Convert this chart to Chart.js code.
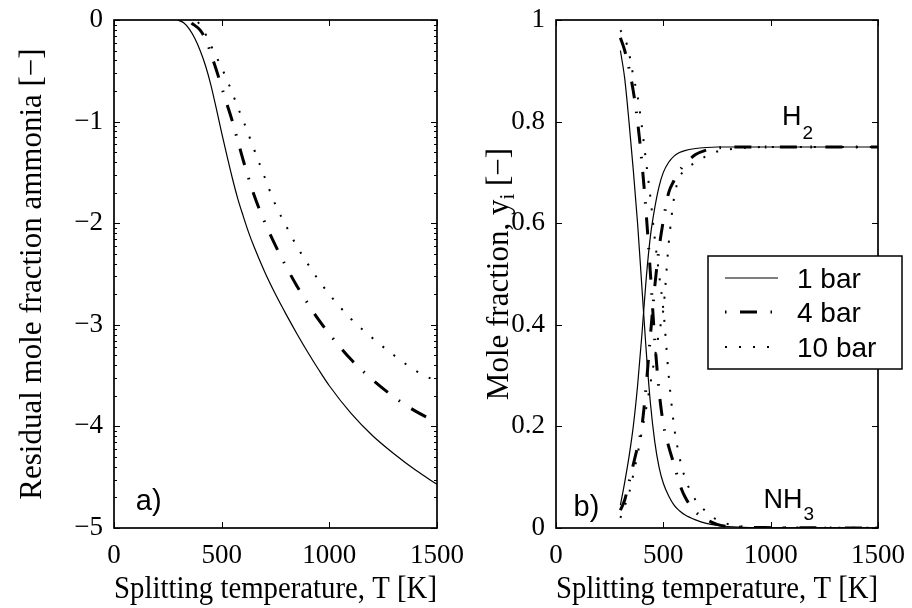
<!DOCTYPE html>
<html><head><meta charset="utf-8">
<script src="https://cdn.jsdelivr.net/npm/chart.js@4.4.1/dist/chart.umd.min.js"></script>
<style>
html,body{margin:0;padding:0;background:#fff;}
#wrap{position:relative;width:912px;height:608px;overflow:hidden;background:#fff}
canvas{position:absolute;top:0}
#cA{left:0}
#cB{left:456px}
</style></head><body>
<div id="wrap"><canvas id="cA" width="500" height="608"></canvas><canvas id="cB" width="456" height="608"></canvas></div>
<script>
// ---------- tick labels / categories ----------
const xTicks = [0, 500, 1000, 1500];
const yTicksA = [0, -1, -2, -3, -4, -5];
const yTicksB = [0, 0.2, 0.4, 0.6, 0.8, 1];
const seriesNames = ['1 bar', '4 bar', '10 bar'];

// ---------- panel a) : log10 of residual NH3 mole fraction ----------
const tempA1  = [296, 325, 350, 375, 400, 425, 450, 475, 500, 525, 550, 575, 600, 625, 650, 700, 750, 800, 850, 900, 950, 1000, 1100, 1200, 1300, 1400, 1500];
const logA1   = [0, -0.03, -0.09, -0.18, -0.30, -0.45, -0.64, -0.87, -1.11, -1.34, -1.56, -1.76, -1.93, -2.09, -2.23, -2.48, -2.70, -2.90, -3.09, -3.27, -3.44, -3.60, -3.87, -4.09, -4.27, -4.43, -4.57];
const tempA4  = [360, 400, 430, 450, 475, 500, 525, 550, 575, 600, 650, 700, 750, 800, 850, 900, 950, 1000, 1100, 1200, 1300, 1400, 1500];
const logA4   = [-0.03, -0.10, -0.21, -0.33, -0.49, -0.66, -0.83, -1.00, -1.19, -1.38, -1.72, -1.99, -2.22, -2.43, -2.62, -2.79, -2.95, -3.09, -3.34, -3.54, -3.71, -3.85, -3.96];
const tempA10 = [390, 410, 430, 450, 475, 500, 525, 550, 575, 600, 650, 700, 750, 800, 850, 900, 950, 1000, 1100, 1200, 1300, 1400, 1500];
const logA10  = [-0.02, -0.08, -0.16, -0.25, -0.36, -0.47, -0.59, -0.72, -0.86, -0.99, -1.27, -1.55, -1.82, -2.03, -2.23, -2.40, -2.56, -2.70, -2.94, -3.13, -3.30, -3.45, -3.56];

// ---------- panel b) : mole fractions ----------
const tempB   = [300, 320, 340, 360, 380, 400, 420, 440, 460, 480, 500, 525, 550, 575, 600, 650, 700, 750, 800, 900, 1000, 1100, 1200, 1300, 1400, 1500];
const nh3_1   = [0.94, 0.885, 0.80, 0.705, 0.60, 0.475, 0.35, 0.245, 0.17, 0.12, 0.088, 0.063, 0.045, 0.034, 0.026, 0.016, 0.009, 0.005, 0.003, 0.001, 0.0005, 0.0003, 0.0002, 0.0001, 0.0001, 0.0001];
const h2_1    = [0.045, 0.09, 0.14, 0.20, 0.28, 0.38, 0.49, 0.575, 0.63, 0.672, 0.70, 0.72, 0.732, 0.739, 0.743, 0.747, 0.749, 0.75, 0.75, 0.75, 0.75, 0.75, 0.75, 0.75, 0.75, 0.75];
const nh3_4   = [0.965, 0.94, 0.905, 0.86, 0.80, 0.72, 0.62, 0.50, 0.37, 0.27, 0.205, 0.16, 0.125, 0.088, 0.062, 0.032, 0.017, 0.007, 0.003, 0.001, 0.0007, 0.0004, 0.0003, 0.0002, 0.0002, 0.0001];
const h2_4    = [0.035, 0.055, 0.09, 0.125, 0.16, 0.20, 0.28, 0.38, 0.475, 0.55, 0.605, 0.66, 0.684, 0.703, 0.716, 0.735, 0.744, 0.748, 0.75, 0.75, 0.75, 0.75, 0.75, 0.75, 0.75, 0.75];
const nh3_10  = [0.98, 0.965, 0.935, 0.89, 0.85, 0.79, 0.72, 0.65, 0.57, 0.50, 0.43, 0.30, 0.20, 0.14, 0.10, 0.055, 0.032, 0.016, 0.008, 0.002, 0.001, 0.0008, 0.0006, 0.0004, 0.0003, 0.0003];
const h2_10   = [0.02, 0.043, 0.068, 0.105, 0.145, 0.19, 0.235, 0.285, 0.335, 0.385, 0.43, 0.56, 0.65, 0.69, 0.704, 0.72, 0.732, 0.741, 0.745, 0.749, 0.75, 0.75, 0.75, 0.75, 0.75, 0.75];

// ---------- styles ----------
const SERIF = "'Liberation Serif', 'Times New Roman', serif";
const SANS  = "'Liberation Sans', Arial, Helvetica, sans-serif";
const lineStyles = [
  { borderWidth: 1.2, borderDash: [] },
  { borderWidth: 3,   borderDash: [17, 13.5, 1.5, 13.5] },
  { borderWidth: 2,   borderDash: [2, 12] }
];

function ds(xs, ys, st) {
  return {
    data: xs.map((x, i) => ({ x: x, y: ys[i] })),
    borderColor: '#000', backgroundColor: '#000',
    borderWidth: st.borderWidth, borderDash: st.borderDash,
    pointRadius: 0, fill: false, cubicInterpolationMode: 'monotone'
  };
}

function framePlugin(yTicks, minor) {
  return {
    id: 'frame',
    afterDatasetsDraw(chart) {
      const { ctx, chartArea: a, scales } = chart;
      const x = scales.x, y = scales.y;
      ctx.save();
      ctx.strokeStyle = '#000';
      ctx.lineWidth = 1;
      ctx.beginPath();
      xTicks.forEach(t => {
        const px = Math.round(x.getPixelForValue(t)) + 0.5;
        ctx.moveTo(px, a.bottom); ctx.lineTo(px, a.bottom - 6);
        ctx.moveTo(px, a.top); ctx.lineTo(px, a.top + 6);
      });
      yTicks.forEach(t => {
        const py = Math.round(y.getPixelForValue(t)) + 0.5;
        ctx.moveTo(a.left, py); ctx.lineTo(a.left + 6, py);
        ctx.moveTo(a.right, py); ctx.lineTo(a.right - 6, py);
      });
      if (minor) {
        for (let n = 0; n < 5; n++) {
          for (let k = 2; k <= 9; k++) {
            const v = -(n + 1) + Math.log10(k);
            const py = Math.round(y.getPixelForValue(v)) + 0.5;
            ctx.moveTo(a.left, py); ctx.lineTo(a.left + 3, py);
            ctx.moveTo(a.right, py); ctx.lineTo(a.right - 3, py);
          }
        }
      }
      ctx.stroke();
      ctx.lineWidth = 1.7;
      ctx.strokeRect(a.left, a.top, a.right - a.left, a.bottom - a.top);
      ctx.restore();
    }
  };
}

function textPlugin(id, drawFn) {
  return { id: id, afterDraw(chart) { const c = chart.ctx; c.save(); drawFn(chart, c); c.restore(); } };
}

function subText(ctx, x, y, main, sub, size, subSize, subDrop) {
  ctx.font = size + 'px ' + SANS;
  ctx.fillStyle = '#000';
  ctx.textBaseline = 'alphabetic';
  ctx.textAlign = 'left';
  ctx.fillText(main, x, y);
  const w = ctx.measureText(main).width;
  ctx.font = subSize + 'px ' + SANS;
  ctx.fillText(sub, x + w + 1, y + subDrop);
}

function baseOptions(padRight, yWidth) {
  return {
    responsive: false, animation: false, devicePixelRatio: 1,
    layout: { padding: { left: 0, right: padRight, top: 20, bottom: 0 } },
    plugins: { legend: { display: false }, tooltip: { enabled: false } },
    elements: { point: { radius: 0 } },
    scales: {
      x: {
        type: 'linear', min: 0, max: 1500,
        afterBuildTicks: s => { s.ticks = xTicks.map(v => ({ value: v })); },
        afterFit: s => { s.height = 80; s.paddingLeft = 0; s.paddingRight = 0; },
        grid: { display: false, drawTicks: false },
        border: { display: false },
        ticks: { font: { family: SERIF, size: 27 }, color: '#000', padding: 12, maxRotation: 0, autoSkip: false,
                 callback: v => String(v) },
        title: { display: true, text: 'Splitting temperature, T [K]', color: '#000',
                 font: { family: SERIF, size: 31 }, padding: { top: 0, bottom: 0 } }
      },
      y: {
        type: 'linear',
        afterFit: s => { s.width = yWidth; s.paddingTop = 0; s.paddingBottom = 0; },
        grid: { display: false, drawTicks: false },
        border: { display: false },
        ticks: { font: { family: SERIF, size: 27 }, color: '#000', padding: 11, autoSkip: false }
      }
    }
  };
}

// ---------- chart a ----------
const optA = baseOptions(63, 114);
optA.scales.y.min = -5; optA.scales.y.max = 0;
optA.scales.y.afterBuildTicks = s => { s.ticks = yTicksA.map(v => ({ value: v })); };
optA.scales.y.ticks.callback = v => (v === 0 ? '0' : '\u2212' + Math.abs(v));
optA.scales.y.title = { display: true, text: 'Residual mole fraction ammonia [\u2212]', color: '#000',
  font: { family: SERIF, size: 31 }, padding: { top: 14, bottom: 0 } };

new Chart(document.getElementById('cA'), {
  type: 'line',
  data: { datasets: [
    ds(tempA1, logA1, lineStyles[0]),
    ds(tempA4, logA4, lineStyles[1]),
    ds(tempA10, logA10, lineStyles[2])
  ] },
  options: optA,
  plugins: [
    framePlugin(yTicksA, true),
    textPlugin('annA', (chart, ctx) => {
      const x = chart.scales.x, y = chart.scales.y;
      ctx.font = '29px ' + SANS; ctx.fillStyle = '#000'; ctx.textBaseline = 'alphabetic';
      ctx.fillText('a)', x.getPixelForValue(101), y.getPixelForValue(-4.82));
    })
  ]
});

// ---------- chart b ----------
const optB = baseOptions(34, 100);
optB.scales.y.min = 0; optB.scales.y.max = 1;
optB.scales.y.afterBuildTicks = s => { s.ticks = yTicksB.map(v => ({ value: v })); };
optB.scales.y.ticks.callback = v => String(Math.round(v * 10) / 10);

new Chart(document.getElementById('cB'), {
  type: 'line',
  data: { datasets: [
    ds(tempB, nh3_1, lineStyles[0]), ds(tempB, h2_1, lineStyles[0]),
    ds(tempB, nh3_4, lineStyles[1]), ds(tempB, h2_4, lineStyles[1]),
    ds(tempB, nh3_10, lineStyles[2]), ds(tempB, h2_10, lineStyles[2])
  ] },
  options: optB,
  plugins: [
    framePlugin(yTicksB, false),
    textPlugin('annB', (chart, ctx) => {
      const x = chart.scales.x, y = chart.scales.y, a = chart.chartArea;
      // y axis title with subscript
      ctx.save();
      ctx.translate(44, (a.top + a.bottom) / 2);
      ctx.rotate(-Math.PI / 2);
      ctx.fillStyle = '#000'; ctx.textBaseline = 'middle'; ctx.textAlign = 'left';
      const p1 = 'Mole fraction, y', p2 = 'i', p3 = ' [\u2212]';
      ctx.font = '31px ' + SERIF; const w1 = ctx.measureText(p1).width, w3 = ctx.measureText(p3).width;
      ctx.font = '21px ' + SERIF; const w2 = ctx.measureText(p2).width;
      let sx = -(w1 + w2 + w3) / 2;
      ctx.font = '31px ' + SERIF; ctx.fillText(p1, sx, 0);
      ctx.font = '21px ' + SERIF; ctx.fillText(p2, sx + w1, 8);
      ctx.font = '31px ' + SERIF; ctx.fillText(p3, sx + w1 + w2, 0);
      ctx.restore();
      // annotations
      ctx.font = '29px ' + SANS; ctx.fillStyle = '#000'; ctx.textBaseline = 'alphabetic'; ctx.textAlign = 'left';
      ctx.fillText('b)', x.getPixelForValue(82), y.getPixelForValue(0.024));
      subText(ctx, x.getPixelForValue(1053), y.getPixelForValue(0.793), 'H', '2', 27, 19, 14);
      subText(ctx, x.getPixelForValue(967), y.getPixelForValue(0.039), 'NH', '3', 27, 19, 12);
      // legend
      const L = 252, T = 256, W = 194, H = 113;
      ctx.fillStyle = '#fff'; ctx.fillRect(L, T, W, H);
      ctx.strokeStyle = '#000'; ctx.lineWidth = 1.5; ctx.strokeRect(L, T, W, H);
      const rowsY = [278, 312, 347];
      const offsets = [0, 30.5, 0];
      seriesNames.forEach((name, i) => {
        const st = lineStyles[i];
        ctx.beginPath();
        ctx.setLineDash(st.borderDash); ctx.lineDashOffset = offsets[i];
        ctx.lineWidth = st.borderWidth;
        ctx.moveTo(269, rowsY[i]); ctx.lineTo(322, rowsY[i]);
        ctx.stroke();
        ctx.setLineDash([]);
        ctx.font = '28px ' + SANS; ctx.fillStyle = '#000'; ctx.textBaseline = 'alphabetic';
        ctx.fillText(name, 341, rowsY[i] + 10);
      });
    })
  ]
});
</script>
</body></html>
